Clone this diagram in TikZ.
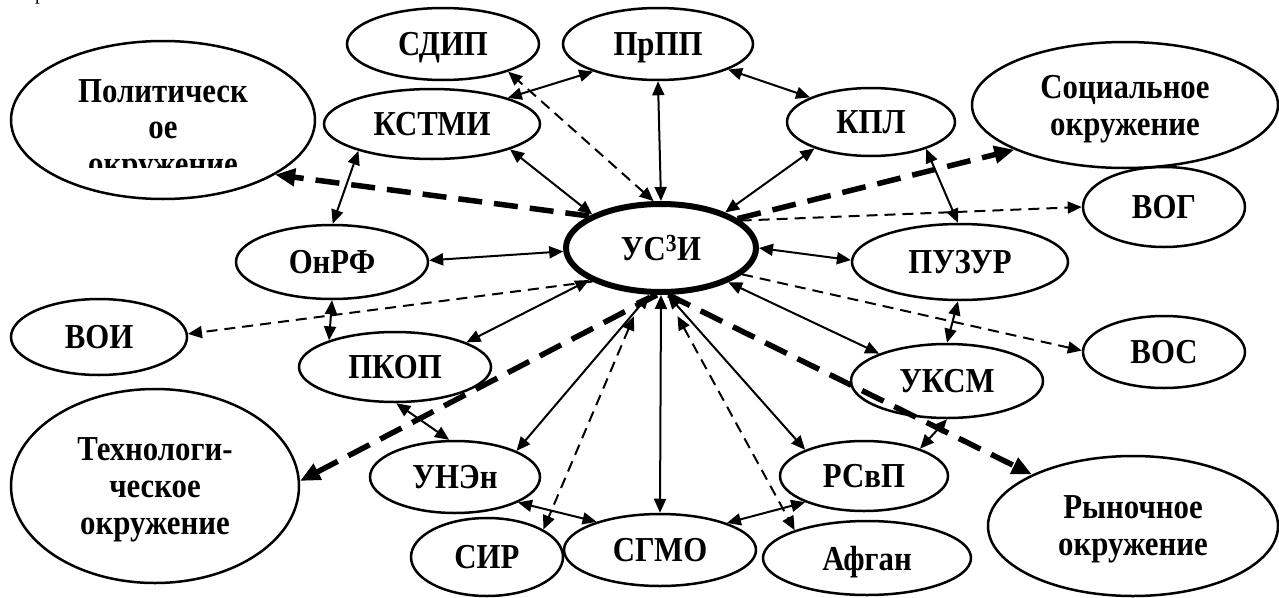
\documentclass[tikz,border=0pt]{standalone}
\usepackage{fontspec}
\setmainfont{Liberation Serif}[FakeStretch=0.88]
\usetikzlibrary{shapes.geometric,arrows.meta}
\begin{document}
\begin{tikzpicture}[x=1pt,y=-1pt,
  box/.style={ellipse,draw,line width=2.5pt,inner sep=0pt,text depth=0pt,font=\fontsize{35}{37}\selectfont\bfseries,align=center},
  sz/.style 2 args={minimum width=#1pt,minimum height=#2pt},
  txt/.style={font=\fontsize{35}{37}\selectfont\bfseries,inner sep=0pt,anchor=base},
  both/.style={line width=2pt,{Triangle[length=14pt,width=12pt]}-{Triangle[length=14pt,width=12pt]}},
  dsh/.style={line width=2pt,dash pattern=on 11pt off 7pt,-{Triangle[length=14pt,width=12pt]}},
  dshboth/.style={line width=2pt,dash pattern=on 11pt off 7pt,{Triangle[length=14pt,width=12pt]}-{Triangle[length=14pt,width=12pt]}},
  bigdsh/.style={line width=5.5pt,dash pattern=on 24pt off 12pt,-{Triangle[length=20pt,width=17pt]}},
]
\useasboundingbox (0,0) rectangle (1279,597);
\node[font=\fontsize{22}{22}\selectfont,anchor=base west,inner sep=0pt] (pr) at (35,-1) {р};

% nodes
\node[box,sz={192}{72}] (sdip) at (443,44) {СДИП};
\node[box,sz={190}{72}] (prpp) at (658,44) {ПрПП};
\node[box,sz={216}{70}] (kstmi) at (432,124) {КСТМИ};
\node[box,sz={168}{68}] (kpl) at (871,122) {КПЛ};
\node[box,sz={304}{158}] (polit) at (163,120) {};
\begin{scope}
  \clip (0,0) rectangle (1279,167);
  \node[txt] (polit1) at (163,102) {Политическ};
  \node[txt] (polit2) at (163,138) {ое};
  \node[txt] (polit3) at (163,175) {окружение};
\end{scope}
\node[box,sz={306}{126}] (soc) at (1125,105) {Социальное\\окружение};
\node[box,sz={162}{80}] (vog) at (1164,207) {ВОГ};
\node[box,line width=6pt,sz={190}{88}] (usi) at (661,248) {УС\textsuperscript{3}И};
\node[box,sz={192}{74}] (onrf) at (332,262) {ОнРФ};
\node[box,sz={216}{76}] (puzur) at (960,262) {ПУЗУР};
\node[box,sz={176}{76}] (voi) at (99,337) {ВОИ};
\node[box,sz={192}{70}] (pkop) at (395,367) {ПКОП};
\node[box,sz={162}{72}] (voc) at (1164,352) {ВОС};
\node[box,sz={192}{74}] (uksm) at (947,381) {УКСМ};
\node[box,sz={288}{194}] (tech) at (155,486) {Технологи-\\ческое\\окружение};
\node[box,sz={170}{72}] (unen) at (455,477) {УНЭн};
\node[box,sz={168}{70}] (rsvp) at (864,476) {РСвП};
\node[box,sz={290}{140}] (rynok) at (1133,526) {Рыночное\\окружение};
\node[box,sz={152}{78}] (sir) at (487,557) {СИР};
\node[box,sz={192}{72}] (sgmo) at (660,550) {СГМО};
\node[box,sz={208}{74}] (afgan) at (867,558) {Афган};

% solid two-way connectors
\draw[both] (kstmi.19) -- (prpp.203);
\draw[both] (prpp.south) -- (usi.north);
\draw[both] (prpp.340) -- (kpl.158);
\draw[both] (kstmi.342) -- (usi.154);
\draw[both] (kpl.205) -- (usi.29);
\draw[both] (kstmi.200) -- (onrf.89);
\draw[both] (kpl.334) -- (puzur.93);
\draw[both] (onrf.1) -- (usi.182);
\draw[both] (usi.0) -- (puzur.179);
\draw[both] (onrf.270) -- (pkop.158);
\draw[both] (usi.204) -- (pkop.19);
\draw[both] (pkop.272) -- (unen.99);
\draw[both] (usi.256) -- (unen.23);
\draw[both] (unen.338) -- (sgmo.156);
\draw[both] (usi.south) -- (sgmo.north);
\draw[both] (usi.278) -- (rsvp.156);
\draw[both] (usi.333) -- (uksm.158);
\draw[both] (puzur.267) -- (uksm.90);
\draw[both] (uksm.270) -- (rsvp.26);
\draw[both] (rsvp.204) -- (sgmo.22);

% thin dashed connectors
\draw[dshboth] (usi.99) -- (sdip.337);
\draw[dsh] (usi.19) -- (vog.180);
\draw[dsh] (usi.206) -- (voi.2);
\draw[dsh] (usi.342) -- (voc.179);
\draw[dshboth,shorten <=24pt] (usi.249) -- (sir.26);
\draw[dshboth,shorten <=24pt] (usi.276) -- (afgan.159);

% thick dashed connectors
\draw[bigdsh] (usi.156) -- (polit.334);
\draw[bigdsh] (usi.21) -- (soc.202);
\draw[bigdsh] (usi.265) -- (tech.2);
\draw[bigdsh] (usi.279) -- (rynok.153);
\end{tikzpicture}
\end{document}
